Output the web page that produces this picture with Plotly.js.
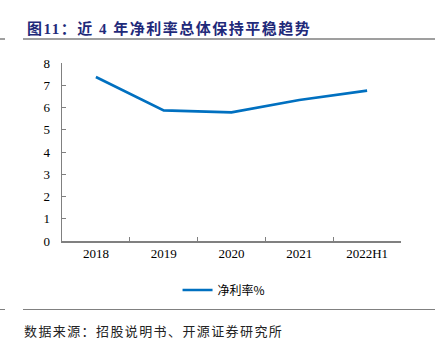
<!DOCTYPE html>
<html>
<head>
<meta charset="utf-8">
<script src="https://cdn.plot.ly/plotly-3.0.1.min.js"></script>
<style>html,body{margin:0;padding:0;background:#fff;}#chart{width:448px;height:351px;}</style>
</head>
<body>
<div id="chart"></div>
<script>
const categories = ["2018", "2019", "2020", "2021", "2022H1"];
const netMargin = [7.37, 5.87, 5.78, 6.34, 6.76];
const seriesName = "净利率%";
const titleText = "图11：近 4 年净利率总体保持平稳趋势";
const sourceText = "数据来源：招股说明书、开源证券研究所";

const L = 62, R = 47, T = 63, B = 110;
const W = 448, H = 351;
const pw = W - L - R, ph = H - T - B;
const px = x => (x - L) / pw;
const py = y => (H - B - y) / ph;

const trace = {
  x: categories, y: netMargin, type: "scatter", mode: "lines", name: seriesName,
  line: {color: "#0070c0", width: 2.6}
};

const layout = {
  width: W, height: H,
  margin: {l: L, r: R, t: T, b: B},
  paper_bgcolor: "#fff", plot_bgcolor: "#fff",
  font: {family: "Liberation Serif, Noto Sans CJK SC", size: 13, color: "#000"},
  showlegend: true,
  legend: {orientation: "h", x: 0.478, xanchor: "center", y: py(290), yanchor: "middle",
    font: {family: "Noto Sans CJK SC", size: 12, color: "#000"}},
  xaxis: {type: "category", range: [-0.5, 4.5], showline: true, linecolor: "#808080", linewidth: 1.5,
    ticks: "inside", tickson: "boundaries", ticklen: 4, tickcolor: "#808080", showgrid: false, zeroline: false,
    tickfont: {family: "Liberation Serif", size: 13}, fixedrange: true},
  yaxis: {range: [0, 8], dtick: 1, showline: true, linecolor: "#808080", linewidth: 1.5,
    ticks: "inside", ticklen: 4, tickcolor: "#808080", showgrid: false, zeroline: false,
    tickfont: {family: "Liberation Serif", size: 13}, ticklabelstandoff: 8, fixedrange: true},
  shapes: [
    {type: "line", xref: "paper", yref: "paper", x0: px(23), x1: px(435), y0: py(39), y1: py(39), line: {color: "#404040", width: 1.2}},
    {type: "line", xref: "paper", yref: "paper", x0: px(0), x1: px(5), y0: py(39), y1: py(39), line: {color: "#404040", width: 1}},
    {type: "line", xref: "paper", yref: "paper", x0: px(23), x1: px(435), y0: py(309.5), y1: py(309.5), line: {color: "#808080", width: 1.2}},
    {type: "line", xref: "paper", yref: "paper", x0: px(0), x1: px(5), y0: py(309.5), y1: py(309.5), line: {color: "#808080", width: 1}}
  ],
  annotations: [
    {text: "<b>" + titleText + "</b>", xref: "paper", yref: "paper", x: px(25), y: py(28), xanchor: "left", yanchor: "middle",
      showarrow: false, font: {family: "Liberation Serif, Noto Sans CJK SC", size: 15, color: "#1f2a7a"}},
    {text: sourceText, xref: "paper", yref: "paper", x: px(22), y: py(330), xanchor: "left", yanchor: "middle",
      showarrow: false, font: {family: "Noto Sans CJK SC", size: 13, color: "#222"}}
  ]
};

Plotly.newPlot("chart", [trace], layout, {displayModeBar: false, staticPlot: true}).then(gd => {
  const texts = gd.querySelectorAll(".annotation-text");
  const spacing = ["1.5px", "1.4px"];
  texts.forEach((t, i) => {
    if (i > 1) return;
    const bb = t.getBBox();
    t.setAttribute("text-anchor", "start");
    t.setAttribute("x", bb.x);
    t.setAttribute("letter-spacing", spacing[i]);
  });
});
</script>
</body>
</html>
